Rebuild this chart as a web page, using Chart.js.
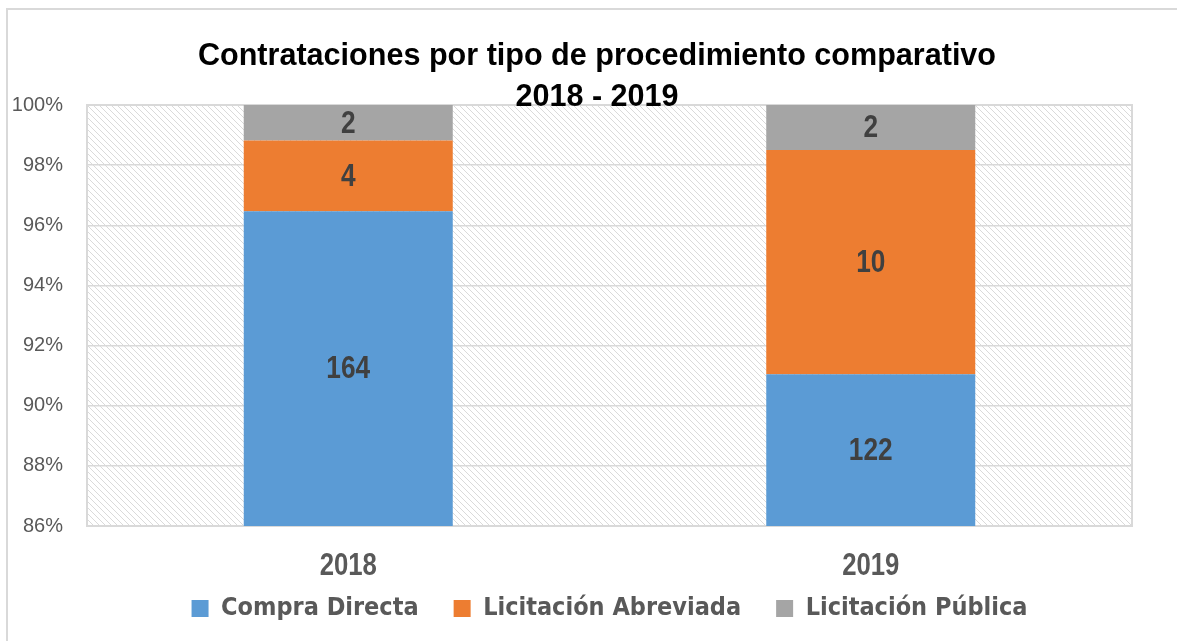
<!DOCTYPE html>
<html>
<head>
<meta charset="utf-8">
<script src="https://cdn.jsdelivr.net/npm/chart.js@4.4.1/dist/chart.umd.min.js"></script>
<style>
  html, body { margin: 0; padding: 0; background: #fff; overflow: hidden; }
  #frame {
    position: absolute; left: 6px; top: 8px; width: 1300px; height: 800px;
    border-left: 2px solid #d9d9d9; border-top: 2px solid #d9d9d9;
  }
  #wrap { position: absolute; left: 0; top: 0; width: 1177px; height: 641px; }
</style>
</head>
<body>
<div id="frame"></div>
<div id="wrap"><canvas id="chart"></canvas></div>
<script>
// ── Data ─────────────────────────────────────────────────
const YEARS = ["2018", "2019"];
const COMPRA_DIRECTA = [164, 122];
const LIC_ABREVIADA = [4, 10];
const LIC_PUBLICA = [2, 2];
const TITLE_LINES = ["Contrataciones por tipo de procedimiento comparativo", "2018 - 2019"];

const CONDENSED = "'DejaVu Sans Condensed', 'Liberation Sans Narrow', sans-serif";
const SANS = "'Liberation Sans', Arial, sans-serif";
const TOTALS = YEARS.map((_, i) => COMPRA_DIRECTA[i] + LIC_ABREVIADA[i] + LIC_PUBLICA[i]);
const toPct = arr => arr.map((v, i) => v / TOTALS[i] * 100);

// draw bold Arial-like text squeezed horizontally (narrow look)
function narrowText(ctx, text, x, y, size, squeeze) {
  ctx.save();
  ctx.font = "bold " + size + "px " + SANS;
  ctx.translate(x, y);
  ctx.scale(squeeze, 1);
  ctx.fillText(text, 0, 0);
  ctx.restore();
}

// ── Hatched plot background + frame + title ──────────────
function makeHatch(ctx) {
  const c = document.createElement("canvas");
  c.width = 6; c.height = 6;
  const g = c.getContext("2d");
  g.fillStyle = "#fff";
  g.fillRect(0, 0, 6, 6);
  g.strokeStyle = "#dadada";
  g.lineWidth = 1;
  g.beginPath();
  g.moveTo(-1, -1); g.lineTo(7, 7);
  g.moveTo(-1, 5); g.lineTo(1, 7);
  g.moveTo(5, -1); g.lineTo(7, 1);
  g.stroke();
  return ctx.createPattern(c, "repeat");
}

const hatchPlugin = {
  id: "hatch",
  beforeDraw(chart) {
    const { ctx, chartArea: a } = chart;
    ctx.save();
    ctx.fillStyle = makeHatch(ctx);
    ctx.fillRect(a.left, a.top, a.right - a.left, a.bottom - a.top);
    ctx.restore();
  },
  beforeDatasetsDraw(chart) {
    const { ctx, chartArea: a } = chart;
    ctx.save();
    ctx.strokeStyle = "#d9d9d9";
    ctx.lineWidth = 2;
    ctx.strokeRect(a.left, a.top, a.right - a.left, a.bottom - a.top);
    ctx.restore();
  },
  afterDraw(chart) {
    const { ctx, chartArea: a } = chart;
    const xScale = chart.scales.x;
    ctx.save();
    ctx.textAlign = "center";
    ctx.textBaseline = "alphabetic";
    ctx.fillStyle = "#000";
    narrowText(ctx, TITLE_LINES[0], 597, 65, 32, 0.955);
    narrowText(ctx, TITLE_LINES[1], 597, 106, 32, 0.955);
    // category labels under the bars
    ctx.fillStyle = "#595959";
    ctx.textBaseline = "middle";
    YEARS.forEach((y, i) => {
      narrowText(ctx, y, xScale.getPixelForValue(i), a.bottom + 40, 31, 0.83);
    });
    ctx.restore();
  }
};

// ── Value labels in the middle of each segment ───────────
const valueLabels = {
  id: "valueLabels",
  afterDatasetsDraw(chart) {
    const { ctx } = chart;
    ctx.save();
    ctx.fillStyle = "#404040";
    ctx.textAlign = "center";
    ctx.textBaseline = "middle";
    chart.data.datasets.forEach((ds, di) => {
      chart.getDatasetMeta(di).data.forEach((bar, i) => {
        const top = Math.max(bar.y, chart.chartArea.top);
        const bottom = Math.min(bar.base, chart.chartArea.bottom);
        narrowText(ctx, String(ds.counts[i]), bar.x, (top + bottom) / 2 + 1, 32, 0.82);
      });
    });
    ctx.restore();
  }
};

new Chart(document.getElementById("chart"), {
  type: "bar",
  data: {
    labels: YEARS,
    datasets: [
      { label: "Compra Directa", data: toPct(COMPRA_DIRECTA), counts: COMPRA_DIRECTA, backgroundColor: "#5B9BD5" },
      { label: "Licitación Abreviada", data: toPct(LIC_ABREVIADA), counts: LIC_ABREVIADA, backgroundColor: "#ED7D31" },
      { label: "Licitación Pública", data: toPct(LIC_PUBLICA), counts: LIC_PUBLICA, backgroundColor: "#A5A5A5" }
    ]
  },
  plugins: [hatchPlugin, valueLabels],
  options: {
    responsive: true,
    maintainAspectRatio: false,
    animation: false,
    layout: { padding: { left: 0, right: 45, top: 105, bottom: 10 } },
    datasets: { bar: { categoryPercentage: 1, barPercentage: 0.4 } },
    plugins: {
      title: { display: false },
      tooltip: { enabled: false },
      legend: {
        position: "bottom",
        fullSize: false,
        labels: {
          boxWidth: 17, boxHeight: 17, padding: 35,
          color: "#595959",
          font: { family: CONDENSED, size: 25, weight: "bold" }
        }
      }
    },
    scales: {
      x: {
        stacked: true,
        afterFit: s => { s.height = 35; },
        grid: { display: false, drawTicks: false },
        border: { display: false },
        ticks: { display: false }
      },
      y: {
        stacked: true,
        min: 86, max: 100,
        afterFit: s => { s.width = 87; },
        grid: { color: "#d9d9d9", lineWidth: 1.5, drawTicks: false },
        border: { display: true, color: "#d9d9d9", width: 2 },
        ticks: {
          stepSize: 2, padding: 24, color: "#595959",
          font: { family: SANS, size: 20 },
          callback: v => v + "%"
        }
      }
    }
  }
});
</script>
</body>
</html>
